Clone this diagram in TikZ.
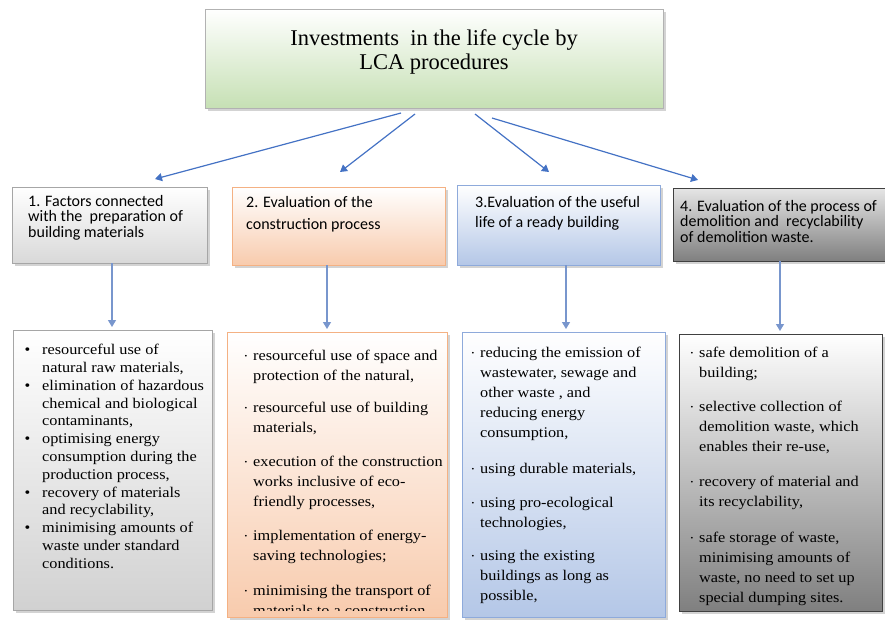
\documentclass[tikz,border=0pt]{standalone}
\usepackage{fontspec}
\usepackage{xcolor}
\usetikzlibrary{arrows.meta,shadows}
\setmainfont{Liberation Serif}
\newfontfamily\bodyfont[FakeStretch=1.1]{Liberation Serif}
\newfontfamily\headfont{Carlito}

\definecolor{arrowblue}{RGB}{68,114,196}
\definecolor{stemblue}{RGB}{120,150,205}
\definecolor{lcagreen}{RGB}{198,224,180}
\definecolor{peach}{RGB}{248,203,173}
\definecolor{peachline}{RGB}{244,177,131}
\definecolor{lightblue}{RGB}{180,199,231}
\definecolor{blueline}{RGB}{142,170,219}

% bullets hanging to the left of the text
\newcommand{\bigbul}{\llap{\textbullet\hspace{12pt}}}
\newcommand{\smallbul}{\llap{\raisebox{2pt}{\fontsize{7}{7}\selectfont\textbullet}\hspace{6pt}}}

\begin{document}
\begin{tikzpicture}[x=1pt,y=-1pt,
  box/.style={draw, inner sep=0pt, outer sep=0pt,
    drop shadow={shadow xshift=2.5pt,shadow yshift=-2.5pt,opacity=.35}},
  arr/.style={draw=arrowblue, line width=1.2pt, -{Triangle[length=7pt,width=8pt]}},
  head/.style={anchor=north west, align=left, inner sep=0pt},
  list/.style={anchor=north west, align=left, inner sep=0pt,
    font=\bodyfont\fontsize{14.8}{20}\selectfont}]
  \useasboundingbox (0,0) rectangle (885,619);

  % main box
  \node[box, draw=black!30, top color=white, bottom color=lcagreen,
    minimum width=458pt, minimum height=99pt] (t) at (434,58.5) {};
  \node[align=center, font=\fontsize{22.5}{23.5}\selectfont] (tt) at (434,52)
    {Investments~ in the life cycle by\\LCA procedures};

  % headers
  \node[box, draw=black!35, top color=white, bottom color=black!15,
    minimum width=195pt, minimum height=76pt] (h1) at (109.5,225) {};
  \node[box, draw=peachline, top color=white, bottom color=peach,
    minimum width=213pt, minimum height=78pt] (h2) at (338.5,226) {};
  \node[box, draw=blueline, top color=white, bottom color=lightblue,
    minimum width=203pt, minimum height=80pt] (h3) at (558.5,225) {};
  \node[box, draw=black!75, top color=black!10, bottom color=black!50,
    minimum width=219pt, minimum height=73pt] (h4) at (782.5,224.5) {};

  \node[head, font=\headfont\fontsize{16}{15.5}\selectfont] (h1t) at (28,195)
    {1. Factors connected\\with the~ preparation of\\building materials};
  \node[head, font=\headfont\fontsize{16}{22}\selectfont] (h2t) at (246,196)
    {2. Evaluation of the\\construction process};
  \node[head, font=\headfont\fontsize{16}{20}\selectfont] (h3t) at (475,196)
    {3.Evaluation of the useful\\life of a ready building};
  \node[head, font=\headfont\fontsize{16}{15.5}\selectfont] (h4t) at (680,200)
    {4. Evaluation of the process of\\demolition and~ recyclability\\of demolition waste.};

  % lists
  \node[box, draw=black!35, top color=white, bottom color=black!18,
    minimum width=199pt, minimum height=280pt] (c1) at (112.5,470) {};
  \node[box, draw=peachline, top color=white, bottom color=peach,
    minimum width=220pt, minimum height=285pt] (c2) at (337,474.5) {};
  \node[box, draw=blueline, top color=white, bottom color=lightblue,
    minimum width=203pt, minimum height=285pt] (c3) at (563.5,474.5) {};
  \node[box, draw=black!75, top color=white, bottom color=black!50,
    minimum width=203pt, minimum height=277pt] (c4) at (780.5,472.5) {};

  \node[list, font=\bodyfont\fontsize{14.8}{17.8}\selectfont] (c1t) at (42,344)
    {\bigbul resourceful use of\\natural raw materials,\\
     \bigbul elimination of hazardous\\chemical and biological\\contaminants,\\
     \bigbul optimising energy\\consumption during the\\production process,\\
     \bigbul recovery of materials\\and recyclability,\\
     \bigbul minimising amounts of\\waste under standard\\conditions.};
  \begin{scope}
    \clip (c2.north west) rectangle ([yshift=7pt]c2.south east);
    \node[list] (c2t) at (253,350)
      {\smallbul resourceful use of space and\\protection of the natural,\\[12pt]
       \smallbul resourceful use of building\\materials,\\[14pt]
       \smallbul execution of the construction\\works inclusive of eco-\\friendly processes,\\[14pt]
       \smallbul implementation of energy-\\saving technologies;\\[15pt]
       \smallbul minimising the transport of\\materials to a construction};
  \end{scope}
  \node[list] (c3t) at (480,347)
    {\smallbul reducing the emission of\\wastewater, sewage and\\other waste , and\\reducing energy\\consumption,\\[16pt]
     \smallbul using durable materials,\\[14pt]
     \smallbul using pro-ecological\\technologies,\\[13pt]
     \smallbul using the existing\\buildings as long as\\possible,};
  \node[list] (c4t) at (699,347)
    {\smallbul safe demolition of a\\building;\\[14pt]
     \smallbul selective collection of\\demolition waste, which\\enables their re-use,\\[15pt]
     \smallbul recovery of material and\\its recyclability,\\[16pt]
     \smallbul safe storage of waste,\\minimising amounts of\\waste, no need to set up\\special dumping sites.};

  % arrows from the main box
  \coordinate (s1) at ([xshift=-33pt,yshift=-5pt]t.south);
  \coordinate (s2) at ([xshift=-19pt,yshift=-6pt]t.south);
  \coordinate (s3) at ([xshift=41pt,yshift=-6pt]t.south);
  \coordinate (s4) at ([xshift=58pt,yshift=-10pt]t.south);
  \coordinate (e1) at (155,179);
  \coordinate (e2) at (340,172);
  \coordinate (e3) at (549,172);
  \coordinate (e4) at (698,180);
  \draw[arr] (s1) -- (e1);
  \draw[arr] (s2) -- (e2);
  \draw[arr] (s3) -- (e3);
  \draw[arr] (s4) -- (e4);

  % arrows down to the lists
  \draw[arr, draw=stemblue, shorten >=3pt] ([xshift=2.5pt]h1.south) -- ([xshift=2.5pt]h1.south |- c1.north);
  \draw[arr, draw=stemblue, shorten >=3pt] ([xshift=-11.5pt]h2.south) -- ([xshift=-11.5pt]h2.south |- c2.north);
  \draw[arr, draw=stemblue, shorten >=3pt] ([xshift=7.5pt]h3.south) -- ([xshift=7.5pt]h3.south |- c3.north);
  \draw[arr, draw=stemblue, shorten >=3pt] ([xshift=-2.5pt]h4.south) -- ([xshift=-2.5pt]h4.south |- c4.north);
\end{tikzpicture}
\end{document}
